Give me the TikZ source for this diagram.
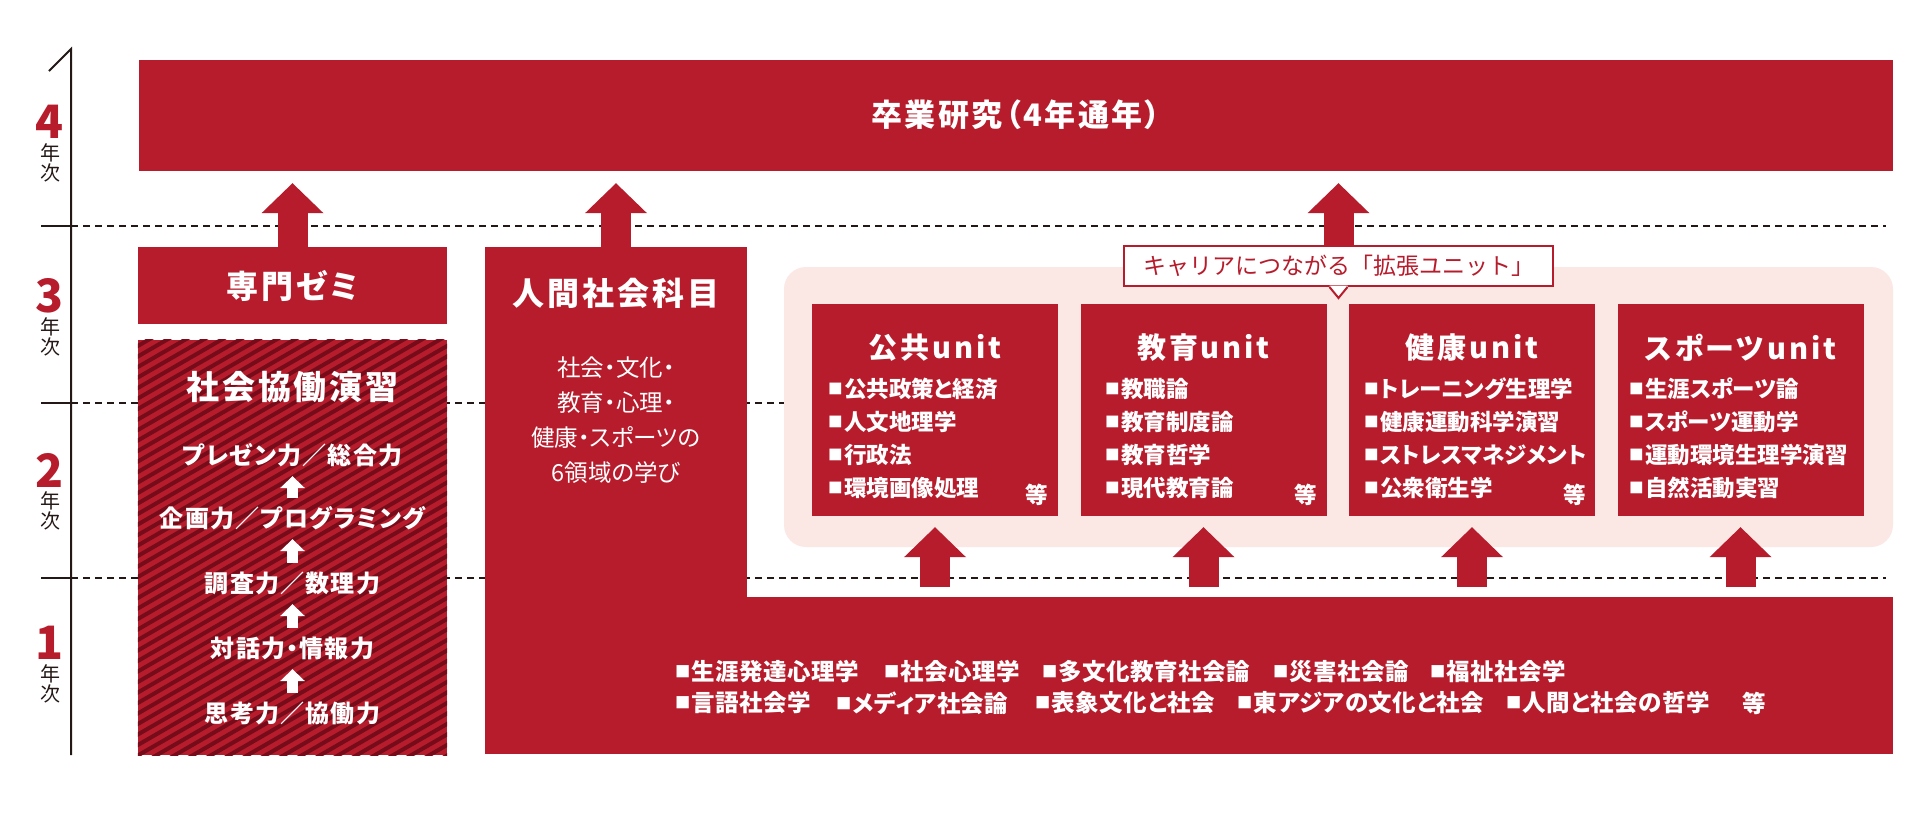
\documentclass[tikz,border=0pt]{standalone}
\usepackage{fontspec}
\setmainfont{Noto Sans CJK JP}
\newfontfamily\pf{Noto Sans CJK JP}[RawFeature=+palt]
\usetikzlibrary{arrows.meta,calc}
\definecolor{mred}{HTML}{B71C2C}
\definecolor{dred}{HTML}{760C19}
\definecolor{mpink}{HTML}{FBE8E5}
\definecolor{ink}{HTML}{231815}
\newcommand\sq{\raisebox{0.13em}{\scalebox{0.65}{■}}\hspace{0.06em}}
\tikzset{
  rbox/.style={fill=mred, draw=none, inner sep=0pt},
  fat/.style={draw=mred, line width=30pt, -{Triangle[length=30pt,width=62pt,line width=0pt]}},
  wfat/.style={draw=white, line width=11pt, -{Triangle[length=12pt,width=25pt,line width=0pt]}},
  tbig/.style={text=white, font=\pf\bfseries\fontsize{31}{31}\selectfont\addfontfeatures{LetterSpace=8}},
  ttitle/.style={text=white, font=\pf\bfseries\fontsize{32}{32}\selectfont\addfontfeatures{LetterSpace=9}},
  tunit/.style={text=white, font=\pf\bfseries\fontsize{29}{29}\selectfont\addfontfeatures{LetterSpace=10}},
  tladder/.style={text=white, text height=21pt, text depth=3pt, font=\pf\bfseries\fontsize{24}{24}\selectfont\addfontfeatures{LetterSpace=5}},
  titem/.style={text=white, align=left, font=\pf\bfseries\fontsize{22.5}{33}\selectfont},
  tcourse/.style={text=white, anchor=west, font=\pf\bfseries\fontsize{23.5}{23.5}\selectfont\addfontfeatures{LetterSpace=2}},
  tbody/.style={text=white, align=center, font=\pf\fontsize{23.5}{35}\selectfont},
  tyear/.style={text=mred, font=\bfseries\fontsize{46}{46}\selectfont},
  tnen/.style={text=ink, align=center, font=\fontsize{20}{20}\selectfont},
}
\begin{document}
\begin{tikzpicture}[x=1pt,y=-1pt, every node/.style={inner sep=0pt}]
\useasboundingbox (0,0) rectangle (1920,817);
\fill[white] (0,0) rectangle (1920,817);

% year grid
\foreach \yy in {226,403,578} {
  \draw[ink, line width=1.2pt, dash pattern=on 7pt off 5pt] (71,\yy) -- (1886,\yy);
  \draw[ink, line width=2pt] (41,\yy) -- (71,\yy);
}
\draw[ink, line width=2pt] (49,71) -- (71,49) -- (71,755);
\foreach \n/\yy in {4/122,3/296,2/470,1/643} {
  \node[tyear] (yr\n) at (50,\yy) {\n};
  \node[tnen] (yk\n) at (50,{\yy+41}) {年\\次};
}

% boxes
\node[rbox, minimum width=1754pt, minimum height=111pt] (sotsu) at (1016,115.5) {};
\node[rbox, minimum width=309pt, minimum height=77pt] (semi) at (292.5,285.5) {};
\node[rbox, minimum width=309pt, minimum height=415pt] (kyodo) at (292.5,547.5) {};
\begin{scope}
  \clip (kyodo.south west) rectangle (kyodo.north east);
  \foreach \c in {340,350.5,...,960} {
    \draw[dred, line width=4pt] (130,\c) -- (460,{\c-190.5});
  }
\end{scope}
\node[rbox, minimum width=262pt, minimum height=351pt] (jinkan) at (616,422.5) {};
\node[rbox, minimum width=1408pt, minimum height=157pt] (courses) at (1189,675.5) {};
\node[fill=mpink, draw=none, rounded corners=22pt, minimum width=1109pt, minimum height=280pt] (career) at (1338.5,407) {};
\foreach \i/\cx in {1/935,2/1203.5,3/1472,4/1740.5} {
  \node[rbox, minimum width=246pt, minimum height=212pt] (u\i) at (\cx,410) {};
}

% arrows
\draw[fat] (semi.north) -- ($(sotsu.south -| semi.north)+(0,12)$);
\draw[fat] (jinkan.north) -- ($(sotsu.south -| jinkan.north)+(0,12)$);
\draw[fat] (career.north) -- ($(sotsu.south -| career.north)+(0,12)$);
\foreach \i in {1,2,3,4} {
  \draw[fat] ($(u\i.south |- courses.north)+(0,-10)$) -- ($(u\i.south)+(0,11)$);
}

% callout
\node[fill=white, draw=mred, line width=2pt, minimum width=429pt, minimum height=40pt,
      text=mred, font=\fontsize{23}{23}\selectfont] (callout) at (1338.5,266) {キャリアにつながる「拡張ユニット」};
\coordinate (pa) at ($(callout.south)+(-9,0)$);
\coordinate (pb) at ($(callout.south)+(9,0)$);
\coordinate (pt) at ($(callout.south)+(0,11)$);
\fill[white] ($(pa)+(0,-1.5)$) -- (pa) -- (pt) -- (pb) -- ($(pb)+(0,-1.5)$) -- cycle;
\draw[mred, line width=2pt, line join=miter] (pa) -- (pt) -- (pb);

% texts
\node[tbig] (tsotsu) at (1016,115) {卒業研究（4年通年）};
\node[ttitle] (tsemi) at (292.5,286) {専門ゼミ};
\node[ttitle, font=\pf\bfseries\fontsize{33}{33}\selectfont\addfontfeatures{LetterSpace=8}] (tkyodo) at (292.5,387) {社会協働演習};
\node[tladder] (l1) at (292.5,455) {プレゼン力／総合力};
\node[tladder] (l2) at (292.5,518) {企画力／プログラミング};
\node[tladder] (l3) at (292.5,583) {調査力／数理力};
\node[tladder] (l4) at (292.5,648) {対話力・情報力};
\node[tladder] (l5) at (292.5,713) {思考力／協働力};
\draw[wfat, shorten <=8pt, shorten >=9pt] (l2.north) -- (l1.south);
\draw[wfat, shorten <=8pt, shorten >=9pt] (l3.north) -- (l2.south);
\draw[wfat, shorten <=8pt, shorten >=9pt] (l4.north) -- (l3.south);
\draw[wfat, shorten <=8pt, shorten >=9pt] (l5.north) -- (l4.south);

\node[ttitle] (tjinkan) at (616,293) {人間社会科目};
\node[tbody] (bjinkan) at (616,420.5) {社会・文化・\\教育・心理・\\健康・スポーツの\\6領域の学び};

\node[tunit] (t1) at (935,348) {公共unit};
\node[tunit] (t2) at (1203.5,348) {教育unit};
\node[tunit] (t3) at (1472,348) {健康unit};
\node[tunit] (t4) at (1740.5,348) {スポーツunit};
\node[titem, anchor=west] (i1) at (828,438.5) {\sq 公共政策と経済\\\sq 人文地理学\\\sq 行政法\\\sq 環境画像処理};
\node[titem, anchor=west] (i2) at (1105,438.5) {\sq 教職論\\\sq 教育制度論\\\sq 教育哲学\\\sq 現代教育論};
\node[titem, anchor=west] (i3) at (1364,438.5) {\sq トレーニング生理学\\\sq 健康運動科学演習\\\sq ストレスマネジメント\\\sq 公衆衛生学};
\node[titem, anchor=west] (i4) at (1629,438.5) {\sq 生涯スポーツ論\\\sq スポーツ運動学\\\sq 運動環境生理学演習\\\sq 自然活動実習};
\node[titem] (e1) at (1037,495) {等};
\node[titem] (e2) at (1306,495) {等};
\node[titem] (e3) at (1575,495) {等};

\node[tcourse] (c1) at (675,672) {\sq 生涯発達心理学};
\node[tcourse] (c2) at (884,672) {\sq 社会心理学};
\node[tcourse] (c3) at (1042,672) {\sq 多文化教育社会論};
\node[tcourse] (c4) at (1273,672) {\sq 災害社会論};
\node[tcourse] (c5) at (1430,672) {\sq 福祉社会学};
\node[tcourse] (c6) at (675,703) {\sq 言語社会学};
\node[tcourse] (c7) at (836,703) {\sq メディア社会論};
\node[tcourse] (c8) at (1035,703) {\sq 表象文化と社会};
\node[tcourse] (c9) at (1237,703) {\sq 東アジアの文化と社会};
\node[tcourse] (c10) at (1506,703) {\sq 人間と社会の哲学};
\node[tcourse] (c11) at (1742,703) {等};
\end{tikzpicture}
\end{document}
